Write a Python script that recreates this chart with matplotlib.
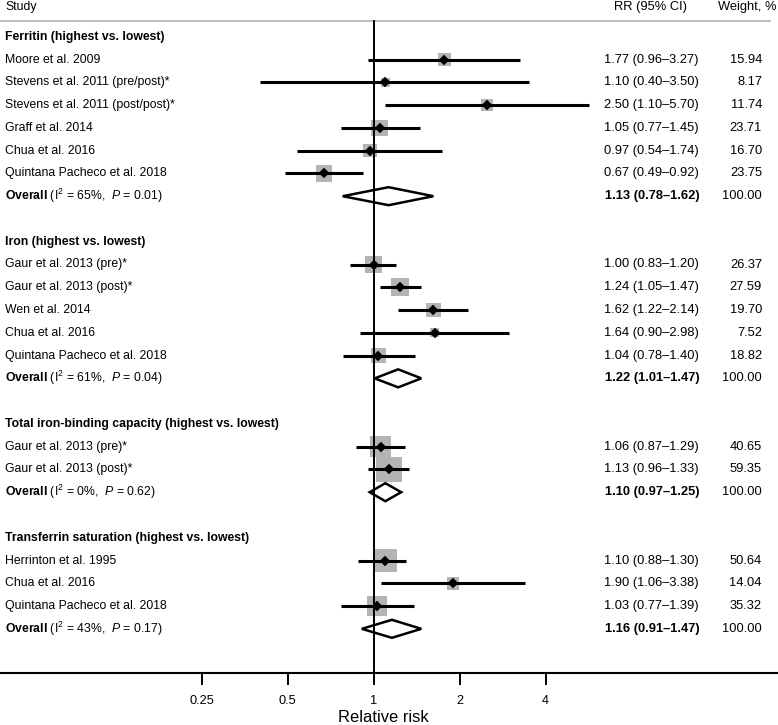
import matplotlib
matplotlib.use("Agg")
import matplotlib.pyplot as plt
import matplotlib.transforms as mtransforms
from matplotlib.patches import Polygon
import numpy as np

plt.rcParams['font.family'] = ['Liberation Sans', 'DejaVu Sans']
plt.rcParams['mathtext.fontset'] = 'custom'
plt.rcParams['mathtext.rm'] = 'Liberation Sans'
plt.rcParams['mathtext.it'] = 'Liberation Sans:italic'
plt.rcParams['mathtext.bf'] = 'Liberation Sans:bold'

# ---------------- data ----------------
group_titles = ["Ferritin (highest vs. lowest)",
                "Iron (highest vs. lowest)",
                "Total iron-binding capacity (highest vs. lowest)",
                "Transferrin saturation (highest vs. lowest)"]

ferritin_studies = ["Moore et al. 2009", "Stevens et al. 2011 (pre/post)*",
                    "Stevens et al. 2011 (post/post)*", "Graff et al. 2014",
                    "Chua et al. 2016", "Quintana Pacheco et al. 2018"]
ferritin_rr = [1.77, 1.10, 2.50, 1.05, 0.97, 0.67]
ferritin_lo = [0.96, 0.40, 1.10, 0.77, 0.54, 0.49]
ferritin_hi = [3.27, 3.50, 5.70, 1.45, 1.74, 0.92]
ferritin_w = [15.94, 8.17, 11.74, 23.71, 16.70, 23.75]

iron_studies = ["Gaur et al. 2013 (pre)*", "Gaur et al. 2013 (post)*",
                "Wen et al. 2014", "Chua et al. 2016", "Quintana Pacheco et al. 2018"]
iron_rr = [1.00, 1.24, 1.62, 1.64, 1.04]
iron_lo = [0.83, 1.05, 1.22, 0.90, 0.78]
iron_hi = [1.20, 1.47, 2.14, 2.98, 1.40]
iron_w = [26.37, 27.59, 19.70, 7.52, 18.82]

tibc_studies = ["Gaur et al. 2013 (pre)*", "Gaur et al. 2013 (post)*"]
tibc_rr = [1.06, 1.13]
tibc_lo = [0.87, 0.96]
tibc_hi = [1.29, 1.33]
tibc_w = [40.65, 59.35]

tsat_studies = ["Herrinton et al. 1995", "Chua et al. 2016", "Quintana Pacheco et al. 2018"]
tsat_rr = [1.10, 1.90, 1.03]
tsat_lo = [0.88, 1.06, 0.77]
tsat_hi = [1.30, 3.38, 1.39]
tsat_w = [50.64, 14.04, 35.32]

overall_rr = [1.13, 1.22, 1.10, 1.16]
overall_lo = [0.78, 1.01, 0.97, 0.91]
overall_hi = [1.62, 1.47, 1.25, 1.47]
overall_i2 = [65, 61, 0, 43]
overall_p = ["0.01", "0.04", "0.62", "0.17"]

xticks = [0.25, 0.5, 1, 2, 4]
xtick_labels = ["0.25", "0.5", "1", "2", "4"]

groups = [
    (ferritin_studies, ferritin_rr, ferritin_lo, ferritin_hi, ferritin_w),
    (iron_studies, iron_rr, iron_lo, iron_hi, iron_w),
    (tibc_studies, tibc_rr, tibc_lo, tibc_hi, tibc_w),
    (tsat_studies, tsat_rr, tsat_lo, tsat_hi, tsat_w),
]

# ---------------- layout ----------------
W, H = 778, 725
fig = plt.figure(figsize=(W / 100, H / 100), dpi=100)
x1_px, px_per_doubling = 373.5, 86.0
xmin = 2 ** ((0 - x1_px) / px_per_doubling)
xmax = 2 ** ((W - x1_px) / px_per_doubling)
y_axis, y_top = 673, 21
ax = fig.add_axes([0, (H - y_axis) / H, 1, (y_axis - y_top) / H])
ax.set_xscale('log', base=2)
ax.set_xlim(xmin, xmax)
ax.set_ylim(y_axis, y_top)
for s in ['top', 'left', 'right']:
    ax.spines[s].set_visible(False)
ax.spines['bottom'].set_linewidth(1.5)
ax.set_yticks([])
ax.set_xticks(xticks)
ax.set_xticklabels(xtick_labels)
ax.xaxis.set_minor_locator(matplotlib.ticker.NullLocator())
ax.tick_params(axis='x', direction='out', length=8.6, width=1.4, pad=7, labelsize=9.2)

tr = mtransforms.blended_transform_factory(ax.transAxes, ax.transData)
px = lambda p: p / W

row0, step = 36.8, 22.77
lab_fs, num_fs = 8.8, 9.3
sq_color = '#b4b4b4'

# headers
ax.text(px(5), 7, "Study", transform=tr, ha='left', va='center', fontsize=lab_fs)
ax.text(px(650), 7, "RR (95% CI)", transform=tr, ha='center', va='center', fontsize=num_fs)
ax.text(px(777), 7, "Weight, %", transform=tr, ha='right', va='center', fontsize=num_fs)
ax.plot([0, px(770)], [21, 21], transform=tr, color='#bdbdbd', lw=1.4, clip_on=False)

# null line
ax.plot([1, 1], [y_top, y_axis], color='black', lw=1.4, zorder=5, clip_on=False)

row = 0
for g, (studies, rr, lo, hi, w) in enumerate(groups):
    y = row0 + row * step
    ax.text(px(5), y, group_titles[g], transform=tr, ha='left', va='center',
            fontsize=lab_fs, fontweight='bold')
    row += 1
    for i in range(len(studies)):
        y = row0 + row * step
        ax.text(px(5), y, studies[i], transform=tr, ha='left', va='center', fontsize=lab_fs)
        side_pt = 3.35 * np.sqrt(w[i]) / 1.389
        ax.scatter([rr[i]], [y], marker='s', s=side_pt ** 2, color=sq_color,
                   edgecolor='none', zorder=2)
        ax.plot([lo[i], hi[i]], [y, y], color='black', lw=2.2, zorder=6,
                solid_capstyle='butt')
        ax.plot([rr[i]], [y], marker='D', color='black', markersize=4.6,
                markeredgewidth=0.3, zorder=7)
        ax.text(px(651), y, f"{rr[i]:.2f} ({lo[i]:.2f}\u2013{hi[i]:.2f})", transform=tr,
                ha='center', va='center', fontsize=num_fs)
        ax.text(px(762), y, f"{w[i]:.2f}", transform=tr, ha='right', va='center',
                fontsize=num_fs)
        row += 1
    y = row0 + row * step
    lbl = r"$\mathbf{Overall}$ (I$^{2}$ = " + f"{overall_i2[g]}%,  " + r"$\it{P}$" + f" = {overall_p[g]})"
    ax.text(px(5), y, lbl, transform=tr, ha='left', va='center', fontsize=lab_fs)
    h = 9
    dia = Polygon([(overall_lo[g], y), (overall_rr[g], y - h), (overall_hi[g], y),
                   (overall_rr[g], y + h)], closed=True, fill=False, edgecolor='black',
                  lw=1.8, zorder=6, joinstyle='miter')
    ax.add_patch(dia)
    ax.text(px(652), y, f"{overall_rr[g]:.2f} ({overall_lo[g]:.2f}\u2013{overall_hi[g]:.2f})",
            transform=tr, ha='center', va='center', fontsize=num_fs, fontweight='bold')
    ax.text(px(762), y, "100.00", transform=tr, ha='right', va='center', fontsize=num_fs)
    row += 2

ax.text(px(383), 718, "Relative risk", transform=tr, ha='center', va='center', fontsize=11.9)

fig.savefig("out.png", dpi=100)
